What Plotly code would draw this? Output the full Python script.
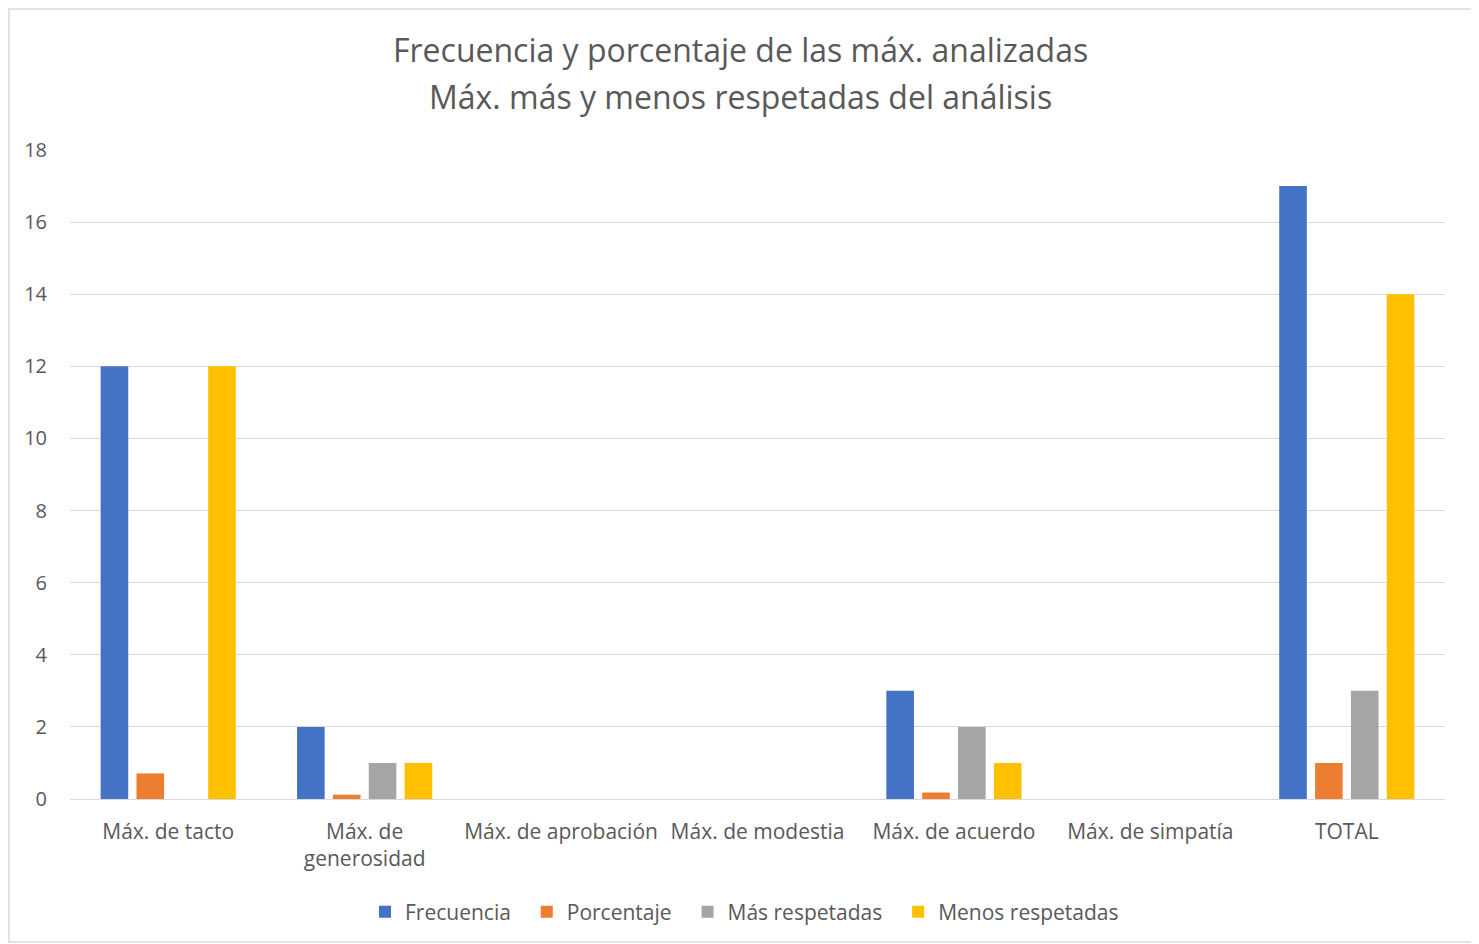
import plotly.graph_objects as go

categories = ["Máx. de tacto", "Máx. de<br>generosidad", "Máx. de aprobación", "Máx. de modestia",
              "Máx. de acuerdo", "Máx. de simpatía", "TOTAL"]
frecuencia = [12, 2, 0, 0, 3, 0, 17]
porcentaje = [0.71, 0.12, 0, 0, 0.18, 0, 1]
mas_respetadas = [0, 1, 0, 0, 2, 0, 3]
menos_respetadas = [12, 1, 0, 0, 1, 0, 14]
title_lines = ["Frecuencia y porcentaje de las máx. analizadas",
               "Máx. más y menos respetadas del análisis"]

series = [
    ("Frecuencia", frecuencia, "#4472C4"),
    ("Porcentaje", porcentaje, "#ED7D31"),
    ("Más respetadas", mas_respetadas, "#A5A5A5"),
    ("Menos respetadas", menos_respetadas, "#FFC000"),
]

FONT = "Open Sans"
GREY = "#595959"
PAD = "\u00a0\u00a0"

fig = go.Figure()
for name, vals, col in series:
    fig.add_trace(go.Bar(name=name + PAD, x=categories, y=vals,
                         marker=dict(color=col, line=dict(width=0))))

# page has an 8px body offset
OFF = 8
W, H = 1479 - OFF, 944 - OFF
L, R, T = 70 - OFF, 34, 150 - OFF
B = H - (799 - OFF)
pw, ph = W - L - R, H - T - B

def px_x(x):
    return (x - OFF - L) / pw

def px_y(y):
    return (799 - y) / ph

annotations = [
    dict(text=t, xref="paper", yref="paper", x=px_x(740), y=px_y(yy),
         xanchor="center", yanchor="middle", showarrow=False,
         font=dict(family=FONT, size=32, color=GREY))
    for t, yy in zip(title_lines, [50, 96])
]

fig.update_layout(
    width=W, height=H,
    margin=dict(l=L, r=R, t=T, b=B),
    paper_bgcolor="white", plot_bgcolor="white",
    barmode="group", bargap=0.27, bargroupgap=0.23,
    font=dict(family=FONT, color=GREY, size=21),
    annotations=annotations,
    legend=dict(orientation="h", x=px_x(750), xanchor="center",
                y=px_y(912), yanchor="middle",
                font=dict(family=FONT, size=21, color=GREY),
                itemwidth=30, traceorder="normal"),
    xaxis=dict(showgrid=False, showline=False, ticks="", tickfont=dict(size=21, color=GREY),
               ticklabelstandoff=18),
    yaxis=dict(range=[0, 18], dtick=2, showgrid=True, gridcolor="#D9D9D9", gridwidth=1.3,
               zeroline=True, zerolinecolor="#D9D9D9", zerolinewidth=1.3,
               showline=False, ticks="", tickfont=dict(size=20, color=GREY),
               ticklabelstandoff=22),
    shapes=[dict(type="rect", xref="paper", yref="paper",
                 x0=px_x(9), x1=px_x(1473),
                 y0=px_y(942), y1=px_y(9),
                 line=dict(color="#D9D9D9", width=1.5), fillcolor="rgba(0,0,0,0)", layer="below")],
)

fig.write_html("out.html")
